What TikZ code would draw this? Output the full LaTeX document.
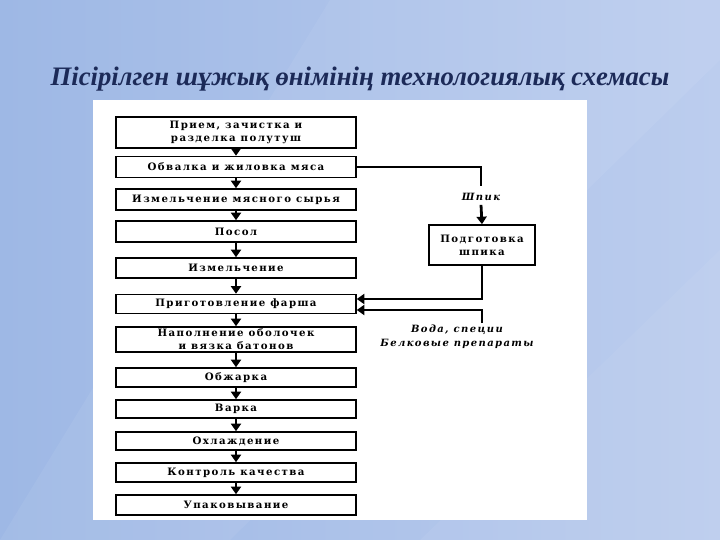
\documentclass[tikz,border=0pt]{standalone}
\usepackage{fontspec}
\setmainfont{Liberation Serif}
\newfontfamily\boxfont[LetterSpace=14]{DejaVu Serif}
\usetikzlibrary{arrows.meta,positioning,calc}

\definecolor{slideleft}{RGB}{158,184,229}
\definecolor{slideright}{RGB}{188,205,238}
\definecolor{titleblue}{RGB}{28,42,88}

\tikzset{
  stage/.style={draw, line width=1.6pt, minimum width=240, minimum height=#1,
    inner sep=0pt, align=center, font=\boxfont\bfseries\fontsize{10.2}{13}\selectfont},
  flow/.style={line width=2.8pt, -{Triangle[length=7.5pt,width=10pt]}},
  feed/.style={line width=2.8pt},
  sidenote/.style={font=\boxfont\bfseries\itshape\fontsize{10}{14}\selectfont, align=center, inner sep=0pt}
}

\begin{document}
\begin{tikzpicture}[x=1pt,y=-1pt]
\useasboundingbox (0,0) rectangle (720,540);
% slide background
\shade[left color=slideleft, right color=slideright] (0,0) rectangle (720,540);
\fill[white, opacity=0.06] (0,540) -- (330,0) -- (720,0) -- (720,60) -- (230,540) -- cycle;
\fill[white, opacity=0.05] (420,540) -- (720,250) -- (720,540) -- cycle;
\node[font=\bfseries\itshape\fontsize{26.7}{32}\selectfont, text=titleblue] (title) at (360,79)
  {Пісірілген шұжық өнімінің технологиялық схемасы};
\fill[white] (93,100) rectangle (587,520);

% main line
\node[stage=31] (b1) at (236,132.5) {Прием, зачистка и\\разделка полутуш};
\node[stage=21] (b2) at (236,167) {Обвалка и жиловка мяса};
\node[stage=21] (b3) at (236,199.5) {Измельчение мясного сырья};
\node[stage=21] (b4) at (236,231.5) {Посол};
\node[stage=20] (b5) at (236,268) {Измельчение};
\node[stage=19] (b6) at (236,304) {Приготовление фарша};
\node[stage=25] (b7) at (236,339.5) {Наполнение оболочек\\и вязка батонов};
\node[stage=19] (b8) at (236,377.5) {Обжарка};
\node[stage=18] (b9) at (236,409) {Варка};
\node[stage=18] (b10) at (236,441) {Охлаждение};
\node[stage=19] (b11) at (236,472.5) {Контроль качества};
\node[stage=20] (b12) at (236,505) {Упаковывание};
\foreach \a/\b in {b1/b2,b2/b3,b3/b4,b4/b5,b5/b6,b6/b7,b7/b8,b8/b9,b9/b10,b10/b11,b11/b12}
  \draw[flow] (\a) -- (\b.north);

% side branch
\node[sidenote] (lard) at (481,197) {Шпик};
\node[stage=40, minimum width=106] (prep) at (482,245) {Подготовка\\шпика};
\node[sidenote] (water) at (457,337) {Вода, специи\\Белковые препараты};
\coordinate (wtop) at (482,323);
\draw[feed] (b2.east) -| ([yshift=7pt]lard.north);
\draw[flow] ([yshift=-4pt]lard.south) -- (prep.north);
\draw[flow] (prep.south) |- ([yshift=5pt]b6.east);
\draw[flow] (wtop) |- ([yshift=-6pt]b6.east);
\end{tikzpicture}
\end{document}
